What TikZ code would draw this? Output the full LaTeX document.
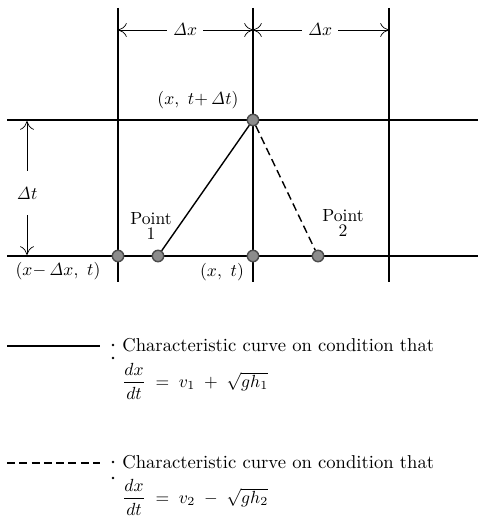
\documentclass[tikz,border=0pt]{standalone}
\usepackage{amsmath}
\usetikzlibrary{arrows.meta}
\begin{document}
\begin{tikzpicture}[
    x=0.02cm, y=-0.02cm,
    grid/.style={draw, thick},
    dot/.style={circle, draw=black!70, fill=black!45, thick, inner sep=0pt, minimum size=6.5pt},
    dim/.style={draw, -{To[length=5pt,width=8pt]}},
    charone/.style={draw, thick},
    chartwo/.style={draw, thick, dash pattern=on 4.5pt off 2.5pt},
    tick/.style={circle, fill=black, inner sep=0pt, minimum size=1.6pt},
    legtext/.style={anchor=west, inner sep=0pt, font=\fontsize{10.6}{12}\selectfont},
    legeq/.style={anchor=west, inner sep=0pt}
]
    \useasboundingbox (0,0) rectangle (478,516);

    % grid
    \draw [grid] (7,120) -- (478,120);
    \draw [grid] (7,256) -- (478,256);
    \draw [grid] (118,8) -- (118,282);
    \draw [grid] (253,8) -- (253,282);
    \draw [grid] (389,8) -- (389,282);

    % grid points
    \node [dot] (left) at (118,256) {};
    \node [dot] (p1) at (158,256) {};
    \node [dot] (mid) at (253,256) {};
    \node [dot] (p2) at (318,256) {};
    \node [dot] (top) at (253,120) {};

    \draw [charone] (p1) -- (top);
    \draw [chartwo] (top) -- (p2);

    % dimensions
    \coordinate (xa) at (118,30);
    \coordinate (xb) at (253,30);
    \coordinate (xc) at (389,30);
    \node (dxone) at (185,30) {$\mathit{\Delta}x$};
    \node (dxtwo) at (320,30) {$\mathit{\Delta}x$};
    \draw [dim] (dxone.west) -- (xa);
    \draw [dim] (dxone.east) -- (xb);
    \draw [dim] (dxtwo.west) -- (xb);
    \draw [dim] (dxtwo.east) -- (xc);

    \coordinate (ta) at (27,121);
    \coordinate (tb) at (27,255);
    \node (dt) at (27,193) {$\mathit{\Delta}t$};
    \draw [dim] (dt.north) ++(0,-10) -- (ta);
    \draw [dim] (dt.south) ++(0,10) -- (tb);

    % labels
    \node at (198,100) {$(x,\ t{+}\,\mathit{\Delta}t)$};
    \node at (58,271) {$(x{-}\,\mathit{\Delta}x,\ t)$};
    \node at (222,272) {$(x,\ t)$};
    \node [align=center, inner sep=0pt] at (151,226) {Point\\[-3pt]1};
    \node [align=center, inner sep=0pt] at (343,223) {Point\\[-3pt]2};

    % legend
    \coordinate (la) at (7,346);
    \coordinate (lb) at (100,346);
    \draw [charone] (la) -- (lb);
    \node [tick] at (113,345) {};
    \node [tick] at (113,358) {};
    \node [legtext] (textone) at (122,345) {Characteristic curve on condition that};
    \node [legeq] (eqone) at (122,381) {$\dfrac{dx}{dt} \;=\; v_1 \;+\; \sqrt{gh_1}$};

    \coordinate (lc) at (7,463);
    \coordinate (ld) at (100,463);
    \draw [chartwo] (lc) -- (ld);
    \node [tick] at (113,462) {};
    \node [tick] at (113,478) {};
    \node [legtext] (texttwo) at (122,462) {Characteristic curve on condition that};
    \node [legeq] (eqtwo) at (122,497) {$\dfrac{dx}{dt} \;=\; v_2 \;-\; \sqrt{gh_2}$};
\end{tikzpicture}
\end{document}
